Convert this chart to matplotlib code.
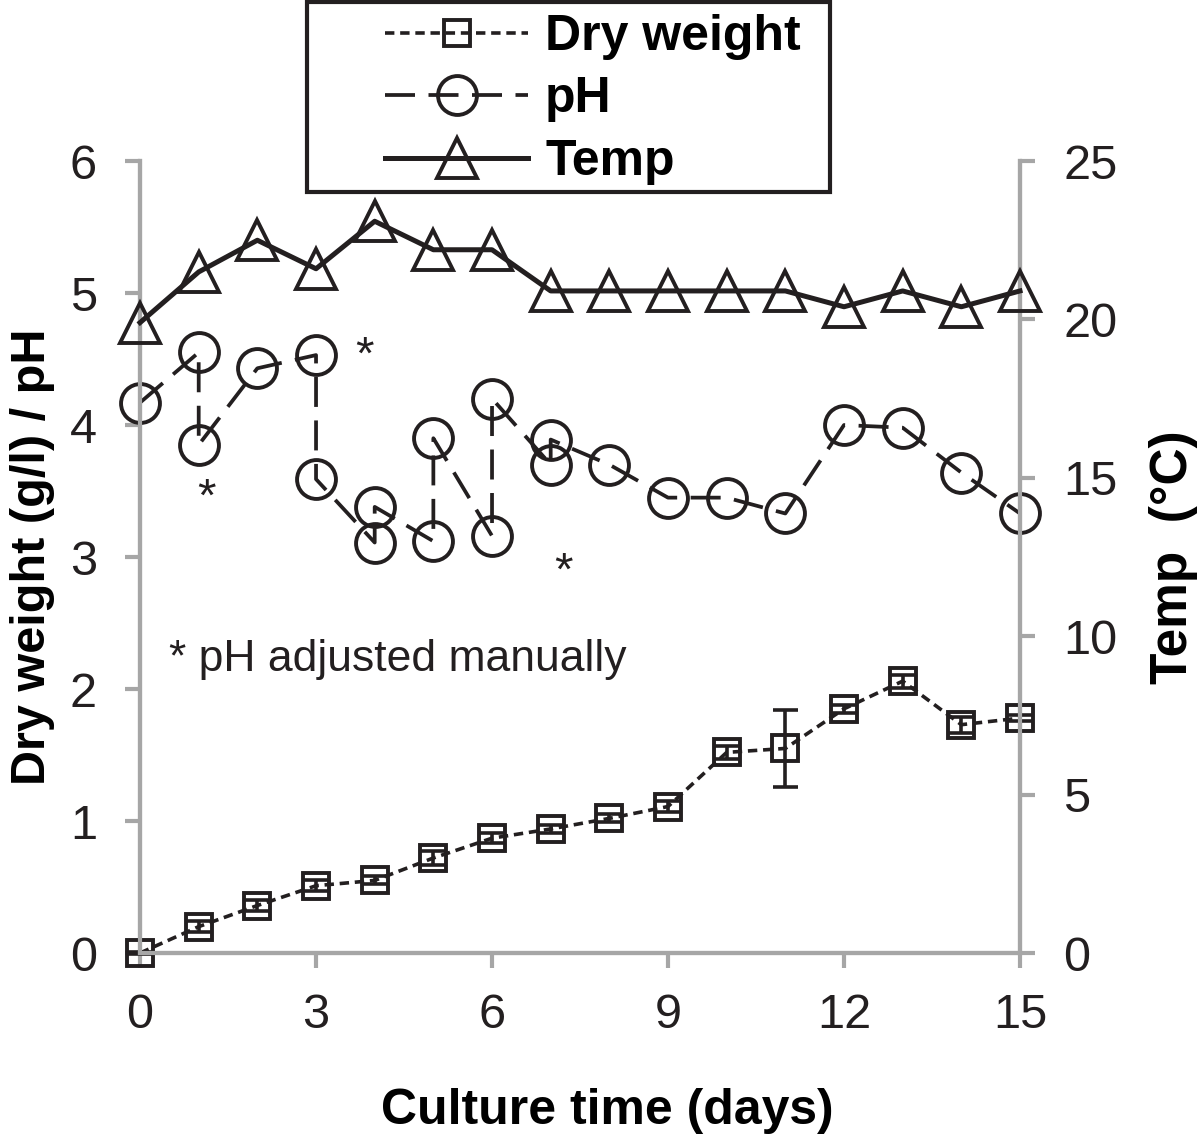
import numpy as np
import matplotlib
matplotlib.use('Agg')
import matplotlib.pyplot as plt
from matplotlib.patches import Rectangle

plt.rcParams['font.family'] = ['Liberation Sans', 'DejaVu Sans']

# Dry weight (g/l) per day
dw_days = [0, 1, 2, 3, 4, 5, 6, 7, 8, 9, 10, 11, 12, 13, 14, 15]
dw_vals = [0.0, 0.20, 0.36, 0.51, 0.55, 0.72, 0.87, 0.94, 1.02, 1.11, 1.52, 1.55, 1.85, 2.06, 1.73, 1.78]
dw_err = [0.01, 0.04, 0.04, 0.04, 0.03, 0.05, 0.04, 0.03, 0.03, 0.04, 0.05, 0.29, 0.03, 0.05, 0.06, 0.02]

# pH, days with manual adjustment have two readings (before / after)
ph_days = [0, 1, 1, 2, 3, 3, 4, 4, 5, 5, 6, 6, 7, 7, 8, 9, 10, 11, 12, 13, 14, 15]
ph_vals = [4.17, 4.55, 3.85, 4.43, 4.53, 3.59, 3.11, 3.38, 3.12, 3.90, 3.16, 4.20,
           3.70, 3.89, 3.70, 3.45, 3.45, 3.33, 4.00, 3.98, 3.64, 3.33]

# Temperature (degC)
temp_days = [0, 1, 2, 3, 4, 5, 6, 7, 8, 9, 10, 11, 12, 13, 14, 15]
temp_vals = [19.9, 21.5, 22.5, 21.6, 23.1, 22.2, 22.2, 20.9, 20.9, 20.9, 20.9, 20.9, 20.4, 20.9, 20.4, 20.9]

# asterisks marking manual pH adjustment
star_x = [3.83, 1.14, 7.21]
star_y = [4.52, 3.44, 2.88]

grey = '#a6a6a6'
ink = '#231f20'

fig = plt.figure(figsize=(12, 11.43), dpi=100)
ax = fig.add_axes([0.1167, 0.1662, 0.7333, 0.6929])
ax2 = ax.twinx()

# error bars first, then the dashed line with open squares on top
ax.errorbar(dw_days, dw_vals, yerr=dw_err, fmt='none', ecolor=ink,
            capsize=9, capthick=2.6, elinewidth=2.6, clip_on=False, zorder=3)
dw, = ax.plot(dw_days, dw_vals, color=ink, lw=2.6,
              linestyle=(0, (2.6, 1.6)), marker='s', markersize=19,
              mfc='none', mec=ink, mew=2.8, clip_on=False, zorder=3)
ph, = ax.plot(ph_days, ph_vals, color=ink, lw=2.7,
              linestyle=(0, (8.0, 3.6)), marker='o', markersize=28,
              mfc='none', mec=ink, mew=2.8, clip_on=False, zorder=3)
tp, = ax2.plot(temp_days, temp_vals, color=ink, lw=3.6, marker='^',
               markersize=29, mfc='none', mec=ink, mew=2.8,
               clip_on=False, zorder=3)

for sx, sy in zip(star_x, star_y):
    ax.text(sx, sy, '*', fontsize=34, ha='center', va='center', color=ink)
ax.text(0.5, 2.22, '* pH adjusted manually', fontsize=32, ha='left',
        va='center', color=ink)

ax.set_xlim(0, 15)
ax.set_ylim(0, 6)
ax2.set_ylim(0, 25)
ax.set_xticks([0, 3, 6, 9, 12, 15])
ax.set_yticks([0, 1, 2, 3, 4, 5, 6])
ax2.set_yticks([0, 5, 10, 15, 20, 25])

for a in (ax, ax2):
    for s in a.spines.values():
        s.set_color(grey)
        s.set_linewidth(3)
    a.spines['top'].set_visible(False)
    a.tick_params(colors=grey, width=3, length=11, labelsize=35,
                  labelcolor=ink, pad=20)
ax.tick_params(axis='x', pad=18)

ax.set_xlabel('Culture time (days)', fontsize=36, fontweight='bold')
ax.xaxis.set_label_coords(0.531, -0.170)
ax.set_ylabel('Dry weight (g/l) / pH', fontsize=35, fontweight='bold')
ax.yaxis.set_label_coords(-0.097, 0.5)
ax2.set_ylabel('Temp  (\u00b0C)', fontsize=37, fontweight='bold')
ax2.yaxis.set_label_coords(1.147, 0.5)

# legend: frame drawn separately so the handles can sit right of centre like the original
fig.patches.append(Rectangle((0.2558, 0.832), 0.4359, 0.166, transform=fig.transFigure,
                             fill=False, edgecolor=ink, linewidth=3, zorder=5))
leg = fig.legend([dw, ph, tp], ['Dry weight', 'pH', 'Temp'],
                 loc='upper left', bbox_to_anchor=(385 / 1200, 1 - 14 / 1143),
                 prop={'weight': 'bold', 'size': 36}, handlelength=2.86,
                 frameon=False, borderpad=0, borderaxespad=0,
                 labelspacing=0.33, handletextpad=0.34)

plt.savefig('out.png', dpi=100)
